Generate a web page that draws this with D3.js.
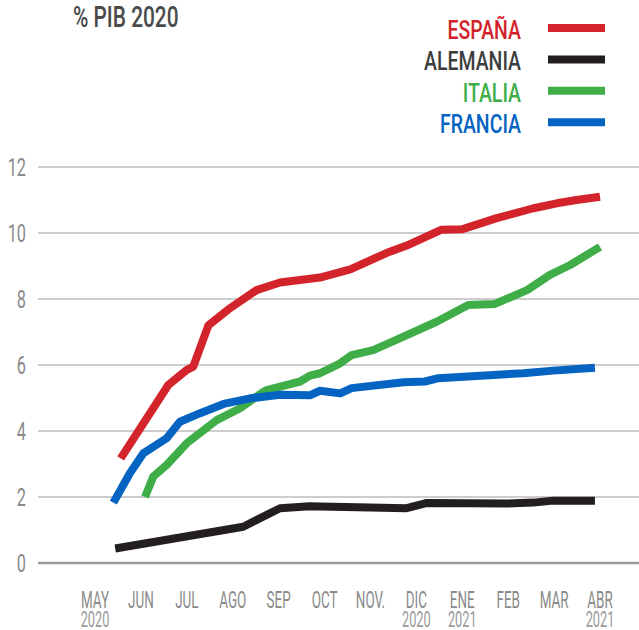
<!DOCTYPE html>
<html>
<head>
<meta charset="utf-8">
<script src="https://cdn.jsdelivr.net/npm/d3@7"></script>
<style>
  body { margin: 0; background: #fff; }
  svg { display: block; }
  text { font-family: "Roboto", "Liberation Sans", sans-serif; font-weight: 400; }
  .heavy { font-weight: 500; }
</style>
</head>
<body>
<svg width="639" height="630"></svg>
<script>
// months on the x axis (0 = MAY 2020)
const months = ["MAY", "JUN", "JUL", "AGO", "SEP", "OCT", "NOV.", "DIC", "ENE", "FEB", "MAR", "ABR"];
const yearLabels = [[0, "2020"], [7, "2020"], [8, "2021"], [11, "2021"]];
const yTicks = [0, 2, 4, 6, 8, 10, 12];

// series values: [months since May 2020, % of GDP 2020]
const espana = [[0.56, 3.17], [1.6, 5.4], [2.0, 5.85], [2.14, 5.95], [2.47, 7.2], [2.94, 7.72], [3.52, 8.27],
  [4.03, 8.5], [4.9, 8.65], [5.56, 8.9], [6.36, 9.4], [6.79, 9.62], [7.55, 10.1], [7.99, 10.11],
  [8.75, 10.45], [9.55, 10.75], [10.06, 10.9], [10.49, 11.0], [11.0, 11.1]];
const alemania = [[0.44, 0.44], [3.23, 1.1], [4.03, 1.66], [4.68, 1.72], [4.9, 1.71], [6.79, 1.66],
  [7.23, 1.82], [8.97, 1.8], [9.55, 1.83], [9.98, 1.89], [10.89, 1.89]];
const italia = [[1.09, 2.0], [1.27, 2.62], [1.56, 2.97], [2.0, 3.63], [2.65, 4.33], [3.16, 4.69], [3.67, 5.19],
  [3.74, 5.24], [4.47, 5.5], [4.68, 5.68], [4.9, 5.75], [5.34, 6.05], [5.59, 6.3], [6.06, 6.45],
  [6.72, 6.86], [7.44, 7.31], [8.13, 7.82], [8.71, 7.85], [9.41, 8.27], [9.91, 8.73], [10.35, 9.03], [11.0, 9.58]];
const francia = [[0.4, 1.83], [0.76, 2.72], [1.05, 3.32], [1.56, 3.78], [1.85, 4.28], [2.29, 4.54], [2.8, 4.82],
  [3.38, 4.99], [4.03, 5.1], [4.68, 5.08], [4.9, 5.22], [5.34, 5.14], [5.59, 5.3], [6.72, 5.48],
  [7.19, 5.5], [7.48, 5.6], [8.68, 5.7], [9.33, 5.75], [9.98, 5.83], [10.89, 5.92]];

const seriesNames = ["ESPAÑA", "ALEMANIA", "ITALIA", "FRANCIA"];
const seriesData = [espana, alemania, italia, francia];
const colors = ["#d3242b", "#231f20", "#3fae49", "#0563c1"];

const svg = d3.select("svg");

const x = d3.scaleLinear().domain([0, 11]).range([95, 600]);
const y = d3.scaleLinear().domain([0, 12]).range([563, 167]);

// condensed text helper: squeeze horizontally
function label(g, px, py, str, size, sx, anchor, fill) {
  return g.append("text")
    .attr("transform", `translate(${px},${py}) scale(${sx},1)`)
    .attr("text-anchor", anchor)
    .attr("font-size", size)
    .attr("fill", fill)
    .text(str);
}

// gridlines
svg.append("g")
  .selectAll("line")
  .data(yTicks)
  .enter()
  .append("line")
  .attr("x1", 38)
  .attr("x2", 639)
  .attr("y1", d => y(d))
  .attr("y2", d => y(d))
  .attr("stroke", d => d === 0 ? "#9a9a9a" : "#bdbdbd")
  .attr("stroke-width", d => d === 0 ? 2.5 : 1.7);

// y labels
const yl = svg.append("g");
yTicks.forEach(d => label(yl, 26, y(d) + 9, d, 25.5, 0.64, "end", "#8a8a8a"));

// x labels
const xl = svg.append("g");
months.forEach((m, i) => label(xl, x(i), 608, m, 24, 0.56, "middle", "#8a8a8a"));
yearLabels.forEach(d => label(xl, x(d[0]), 627, d[1], 22, 0.58, "middle", "#9a9a9a"));

// lines
const line = d3.line()
  .x(d => x(d[0]))
  .y(d => y(d[1]));

svg.append("g")
  .selectAll("path")
  .data(seriesData)
  .enter()
  .append("path")
  .attr("d", line)
  .attr("fill", "none")
  .attr("stroke", (d, i) => colors[i])
  .attr("stroke-width", 8)
  .attr("stroke-linejoin", "round");

// title
label(svg, 73, 27, "% PIB 2020", 29, 0.72, "start", "#4a4a4a").attr("class", "heavy");

// legend
const lg = svg.append("g");
seriesNames.forEach((n, i) => {
  const cy = 28 + i * 31.4;
  label(lg, 521, cy + 11, n, 26.7, 0.73, "end", i === 1 ? "#3d3d3d" : colors[i]).attr("class", "heavy");
  lg.append("line")
    .attr("x1", 548)
    .attr("x2", 605)
    .attr("y1", cy)
    .attr("y2", cy)
    .attr("stroke", colors[i])
    .attr("stroke-width", 8);
});
</script>
</body>
</html>
